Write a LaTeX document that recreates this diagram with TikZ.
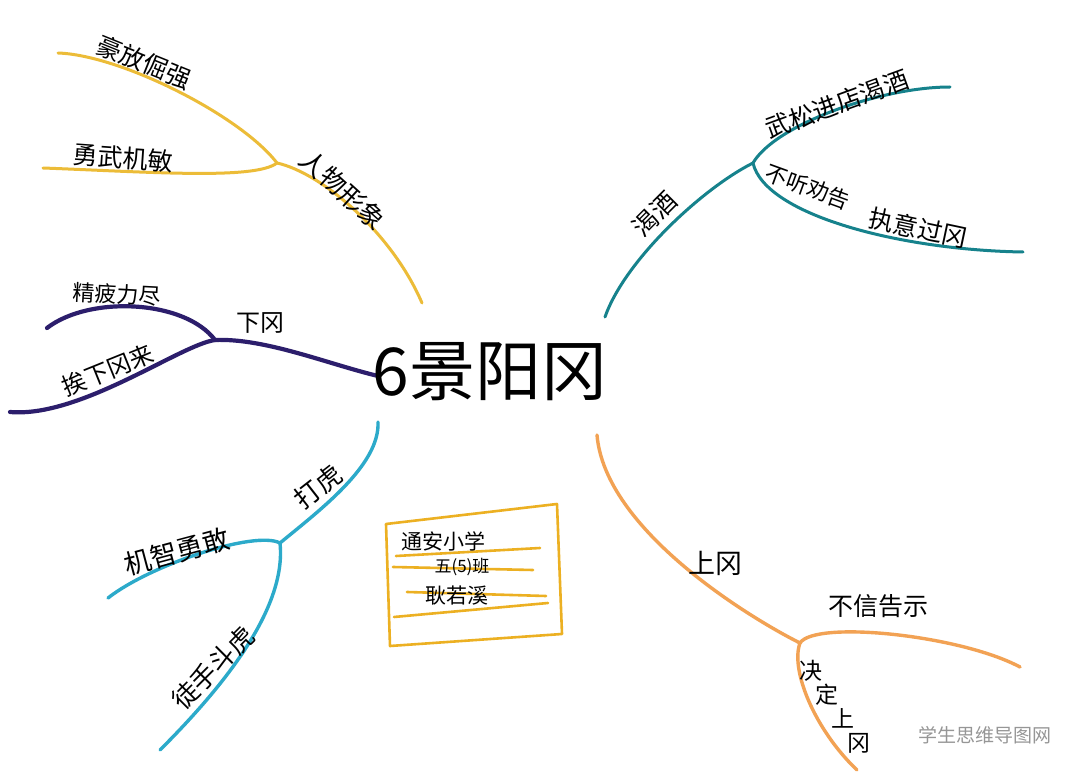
\documentclass[tikz,border=0pt]{standalone}
\usepackage{fontspec}
\setmainfont{Noto Sans CJK SC}
\definecolor{cyel}{RGB}{236,188,56}
\definecolor{cnavy}{RGB}{44,30,108}
\definecolor{cteal}{RGB}{22,130,140}
\definecolor{cblue}{RGB}{44,170,202}
\definecolor{corange}{RGB}{242,162,84}
\definecolor{cgold}{RGB}{236,176,34}
\definecolor{cwm}{RGB}{150,150,150}
\begin{document}
\begin{tikzpicture}[x=1pt,y=-1pt,line cap=round,line join=round,
  br/.style={line width=3pt},
  lab/.style={inner sep=0pt,text=black,font=\fontsize{25}{25}\selectfont},
  boxline/.style={cgold,line width=2.6pt}]
\fill[white] (0,0) rectangle (1080,773);
\useasboundingbox (0,0) rectangle (1080,773);

% ---------- coordinates ----------
\coordinate (Y0) at (422,303); \coordinate (YJ) at (277,163);
\coordinate (Y1) at (58,53);   \coordinate (Y2) at (43,168);
\coordinate (N0) at (378,376); \coordinate (NJ) at (215,340);
\coordinate (N1) at (47,328);  \coordinate (N2) at (10,412);
\coordinate (T0) at (605,317); \coordinate (TJ) at (753,163);
\coordinate (T1) at (950,87);  \coordinate (T2) at (1023,252);
\coordinate (B0) at (378,422); \coordinate (BJ) at (280,543);
\coordinate (B1) at (108,598); \coordinate (B2) at (160,750);
\coordinate (O0) at (597,435); \coordinate (OJ) at (800,643);
\coordinate (O1) at (1020,667);\coordinate (O2) at (857,770);

% ---------- yellow: 人物形象 ----------
\draw[br,cyel] (Y0) .. controls (392,233) and (322,173) .. (YJ);
\draw[br,cyel] (YJ) .. controls (240,115) and (120,55) .. (Y1);
\draw[br,cyel] (YJ) .. controls (255,180) and (150,172) .. (Y2);

% ---------- navy: 下冈 ----------
\draw[line width=4.2pt,cnavy] (N0) .. controls (328,364) and (265,338) .. (NJ);
\draw[line width=4.2pt,cnavy] (NJ) .. controls (185,300) and (90,295) .. (N1);
\draw[line width=4.2pt,cnavy] (NJ) .. controls (180,345) and (80,418) .. (N2);

% ---------- teal: 渴酒 ----------
\draw[br,cteal] (T0) .. controls (625,260) and (703,188) .. (TJ);
\draw[br,cteal] (TJ) .. controls (775,125) and (880,87) .. (T1);
\draw[br,cteal] (TJ) .. controls (765,215) and (900,250) .. (T2);

% ---------- blue: 打虎 ----------
\draw[line width=3.4pt,cblue] (B0) .. controls (380,465) and (320,510) .. (BJ);
\draw[line width=3.4pt,cblue] (BJ) .. controls (255,530) and (150,565) .. (B1);
\draw[line width=3.4pt,cblue] (BJ) .. controls (287,610) and (220,690) .. (B2);

% ---------- orange: 上冈 ----------
\draw[line width=3.4pt,corange] (O0) .. controls (605,530) and (750,618) .. (OJ);
\draw[line width=3.4pt,corange] (OJ) .. controls (815,620) and (960,635) .. (O1);
\draw[line width=3.4pt,corange] (OJ) .. controls (790,670) and (815,730) .. (O2);

% ---------- centre ----------
\node[inner sep=0pt,font=\fontsize{66}{66}\selectfont] (centre) at (490,372) {6景阳冈};

% ---------- labels ----------
\node[lab,rotate=-22] (l1) at (144,62) {豪放倔强};
\node[lab,rotate=-4] (l2) at (123,158) {勇武机敏};
\node[lab,rotate=-42,font=\fontsize{26}{26}\selectfont] (l3) at (343,190) {人物形象};
\node[lab,rotate=-3,font=\fontsize{22}{22}\selectfont] (l4) at (117,294) {精疲力尽};
\node[lab,rotate=22,font=\fontsize{24}{24}\selectfont] (l5) at (108,370) {挨下冈来};
\node[lab,font=\fontsize{24}{24}\selectfont] (l6) at (260,323) {下冈};
\node[lab,rotate=45] (l7) at (655,214) {渴酒};
\node[lab,rotate=20] (l8) at (837,104) {武松进店渴酒};
\node[lab,rotate=-20,font=\fontsize{22}{22}\selectfont] (l9) at (808,187) {不听劝告};
\node[lab,rotate=-12] (l10) at (918,228) {执意过冈};
\node[lab,rotate=38,font=\fontsize{26}{26}\selectfont] (l11) at (318,487) {打虎};
\node[lab,rotate=15,font=\fontsize{27}{27}\selectfont] (l12) at (177,552) {机智勇敢};
\node[lab,rotate=45,font=\fontsize{26}{26}\selectfont] (l13) at (213,668) {徒手斗虎};
\node[lab,font=\fontsize{27}{27}\selectfont] (l14) at (715,563) {上冈};
\node[lab] (l15) at (878,606) {不信告示};
\node[lab,align=left,font=\fontsize{23}{24}\selectfont] (l16) at (835,707)
  {决\\\hspace*{16pt}定\\\hspace*{32pt}上\\\hspace*{48pt}冈};

% ---------- name card ----------
\coordinate (K1) at (386,524); \coordinate (K2) at (557,504);
\coordinate (K3) at (562,634); \coordinate (K4) at (390,646);
\draw[boxline] (K1) -- (K2) -- (K3) -- (K4) -- cycle;
\coordinate (L1a) at (396,556); \coordinate (L1b) at (540,548);
\coordinate (L2a) at (393,567); \coordinate (L2b) at (533,570);
\coordinate (L3a) at (407,592); \coordinate (L3b) at (546,596);
\coordinate (L4a) at (394,617); \coordinate (L4b) at (548,603);
\draw[boxline] (L1a) -- (L1b);
\draw[boxline] (L2a) -- (L2b);
\draw[boxline] (L3a) -- (L3b);
\draw[boxline] (L4a) -- (L4b);
\node[lab,font=\fontsize{21}{21}\selectfont] (c1) at (443,541) {通安小学};
\node[lab,font=\fontsize{17}{17}\selectfont] (c2) at (462,567) {五(5)班};
\node[lab,font=\fontsize{21}{21}\selectfont] (c3) at (457,596) {耿若溪};

% ---------- watermark ----------
\node[inner sep=0pt,text=cwm,font=\fontsize{19}{19}\selectfont] (wm) at (985,735) {学生思维导图网};
\end{tikzpicture}
\end{document}
